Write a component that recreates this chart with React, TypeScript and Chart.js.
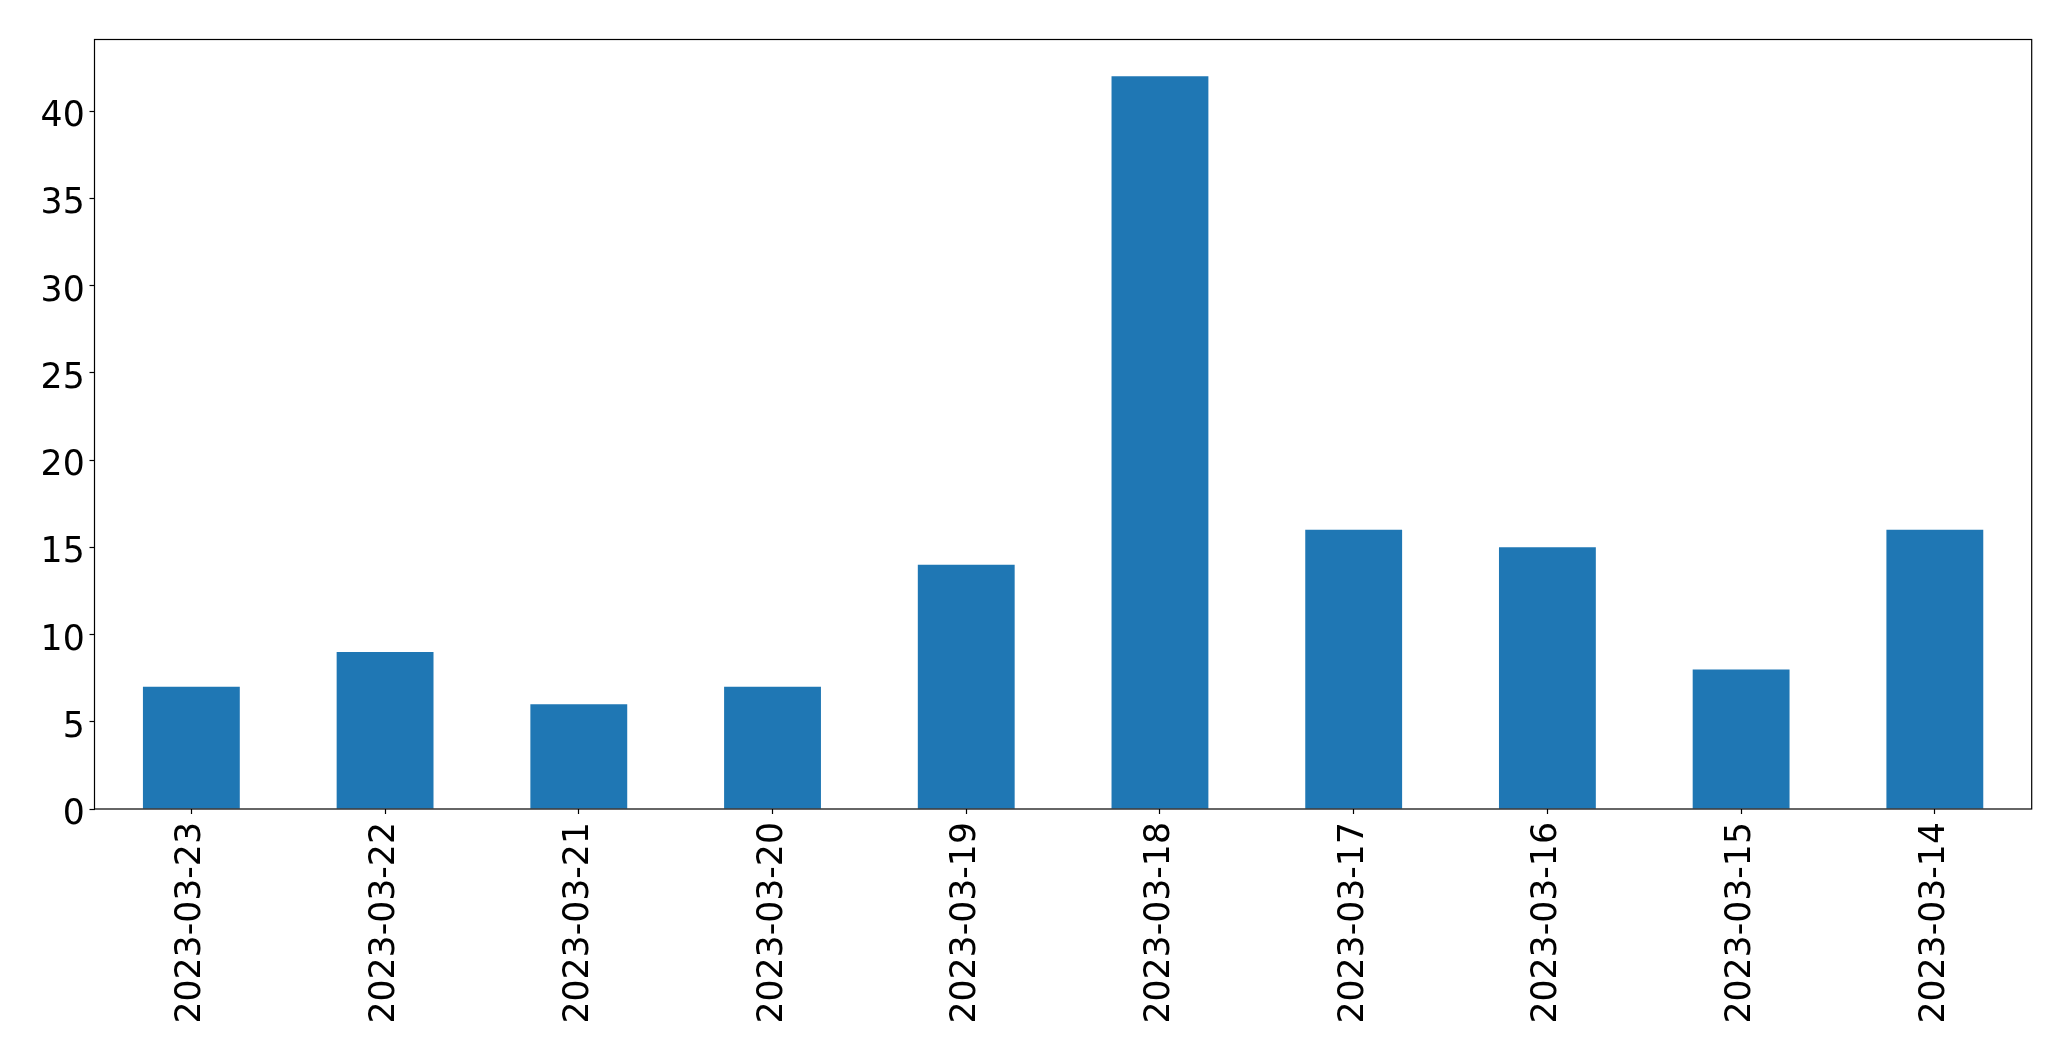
import React, { useEffect, useRef } from "react";
import { Chart, registerables } from "chart.js";

Chart.register(...registerables);

const categories: string[] = [
  "2023-03-23",
  "2023-03-22",
  "2023-03-21",
  "2023-03-20",
  "2023-03-19",
  "2023-03-18",
  "2023-03-17",
  "2023-03-16",
  "2023-03-15",
  "2023-03-14",
];
const counts: number[] = [7, 9, 6, 7, 14, 42, 16, 15, 8, 16];
const yTickValues: number[] = [0, 5, 10, 15, 20, 25, 30, 35, 40];
const yMax = 44.1;

const FONT_FAMILY = "'DejaVu Sans', sans-serif";
const FONT_SIZE = 34.7;

const framePlugin = {
  id: "frame",
  afterDatasetsDraw(chart: any) {
    const { ctx, chartArea } = chart;
    const { left, top, right, bottom } = chartArea;
    ctx.save();
    ctx.strokeStyle = "#000";
    ctx.lineWidth = 1.2;
    ctx.strokeRect(left, top, right - left, bottom - top);
    ctx.restore();
  },
};

// Draws the y tick labels with matplotlib-like baseline placement.
const yLabelPlugin = {
  id: "yLabels",
  afterDraw(chart: any) {
    const { ctx, chartArea } = chart;
    const yScale = chart.scales.y;
    ctx.save();
    ctx.fillStyle = "#000";
    ctx.font = `${FONT_SIZE}px ${FONT_FAMILY}`;
    ctx.textAlign = "right";
    ctx.textBaseline = "alphabetic";
    for (const v of yTickValues) {
      const py = yScale.getPixelForValue(v);
      ctx.fillText(String(v), chartArea.left - 5 - 4.8, py + 15);
    }
    ctx.restore();
  },
};

export default function App() {
  const canvasRef = useRef<HTMLCanvasElement | null>(null);

  useEffect(() => {
    if (!canvasRef.current) return;
    const chart = new Chart(canvasRef.current, {
      type: "bar",
      data: {
        labels: categories,
        datasets: [
          {
            data: counts,
            backgroundColor: "#1f77b4",
            borderWidth: 0,
            categoryPercentage: 1,
            barPercentage: 0.5,
          },
        ],
      },
      options: {
        responsive: false,
        animation: false,
        devicePixelRatio: 1,
        layout: { padding: { left: 0, top: 39.5, right: 39.3, bottom: 0 } },
        plugins: {
          legend: { display: false },
          tooltip: { enabled: false },
        },
        scales: {
          x: {
            type: "category",
            offset: true,
            grid: {
              display: true,
              drawOnChartArea: false,
              drawTicks: true,
              tickLength: 5,
              tickWidth: 1.2,
              tickColor: "#000",
              offset: false,
            },
            border: { display: false },
            ticks: {
              autoSkip: false,
              maxRotation: 90,
              minRotation: 90,
              padding: 8,
              color: "#000",
              font: { family: FONT_FAMILY, size: FONT_SIZE },
            },
            afterFit: (s: any) => {
              s.height = 252;
              s.paddingLeft = 0;
              s.paddingRight = 0;
            },
          },
          y: {
            min: 0,
            max: yMax,
            grid: {
              display: true,
              drawOnChartArea: false,
              drawTicks: true,
              tickLength: 5,
              tickWidth: 1.2,
              tickColor: "#000",
            },
            border: { display: false },
            ticks: {
              display: false,
              stepSize: 5,
              includeBounds: false,
            },
            afterBuildTicks: (s: any) => {
              s.ticks = yTickValues.map((v) => ({ value: v }));
            },
            afterFit: (s: any) => {
              s.width = 94.5;
              s.paddingTop = 0;
              s.paddingBottom = 0;
            },
          },
        },
      },
      plugins: [framePlugin, yLabelPlugin],
    });
    return () => chart.destroy();
  }, []);

  return (
    <div style={{ position: "absolute", left: 0, top: 0, width: 2071, height: 1061, background: "#fff" }}>
      <canvas ref={canvasRef} width={2071} height={1061} style={{ display: "block" }} />
    </div>
  );
}
